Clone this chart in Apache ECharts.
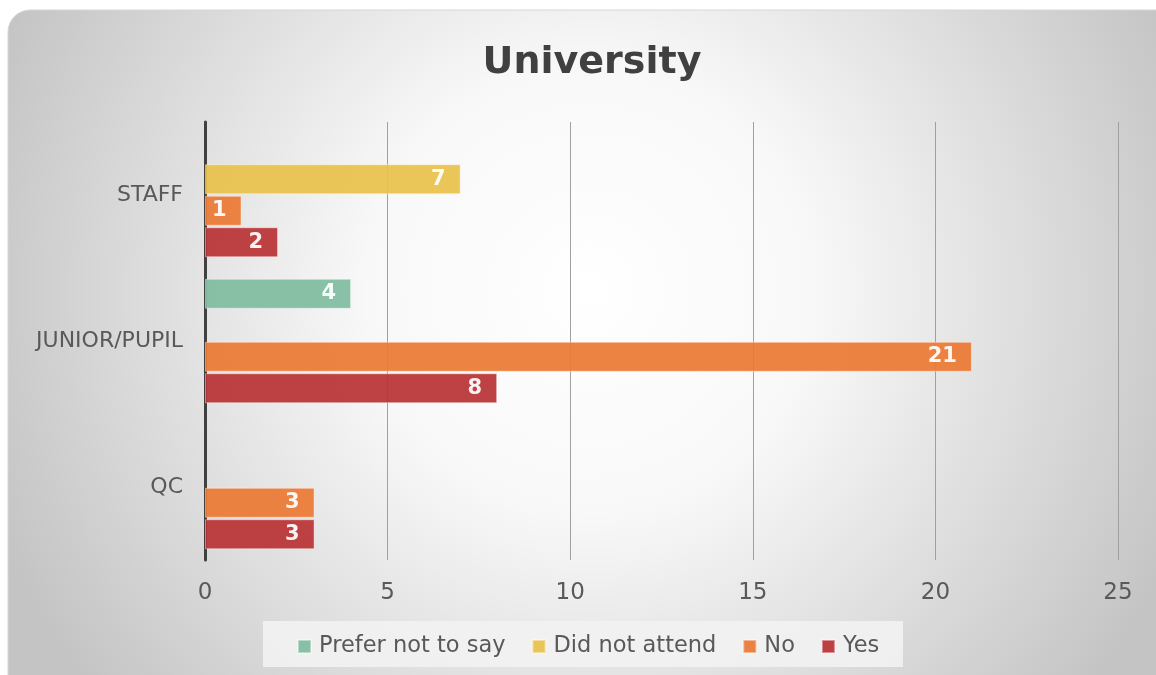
<!DOCTYPE html>
<html>
<head>
<meta charset="utf-8">
<script src="https://cdn.jsdelivr.net/npm/echarts@6/dist/echarts.min.js"></script>
<style>
  html, body { margin: 0; padding: 0; background: #fff; }
  #main { width: 1156px; height: 675px; }
</style>
</head>
<body>
<div id="main"></div>
<script>
// categories listed bottom to top, like the y axis draws them
const categories = ['QC', 'JUNIOR/PUPIL', 'STAFF']
const seriesNames = ['Prefer not to say', 'Did not attend', 'No', 'Yes']
const preferNotToSay = [null, 4, null]
const didNotAttend = [null, null, 7]
const noValues = [3, 21, 1]
const yesValues = [3, 8, 2]
const xTicks = [0, 5, 10, 15, 20, 25]

const colors = ['#7fbc9f', '#e8c14a', '#ec7a35', '#b93336']
const fontFamily = '"Century Gothic", "DejaVu Sans", sans-serif'

var chartDom = document.getElementById('main')
var myChart = echarts.init(chartDom)

const makeSeries = (name, data, i) => ({
  name: name,
  type: 'bar',
  data: data,
  barWidth: 30,
  barGap: '5%',
  itemStyle: {
    color: colors[i],
    opacity: 0.93,
    borderColor: 'rgba(255,255,255,0.45)',
    borderWidth: 1,
  },
  label: {
    show: true,
    position: 'insideRight',
    color: '#fff',
    fontWeight: 'bold',
    fontSize: 21,
    fontFamily: fontFamily,
    distance: 15,
  },
})

var option = {
  color: colors,
  animation: false,
  graphic: [
    {
      type: 'rect',
      z: -10,
      silent: true,
      shape: { x: 8, y: 10, width: 1180, height: 700, r: 22 },
      style: {
        fill: {
          type: 'radial',
          x: 590,
          y: 290,
          r: 640,
          global: true,
          colorStops: [
            { offset: 0, color: '#ffffff' },
            { offset: 0.35, color: '#f8f8f8' },
            { offset: 1, color: '#c4c4c4' },
          ],
        },
        stroke: '#d6d6d6',
        lineWidth: 1,
      },
    },
    {
      type: 'rect',
      z: -5,
      silent: true,
      shape: { x: 263, y: 621, width: 640, height: 46 },
      style: { fill: 'rgba(242,242,242,0.9)' },
    },
  ],
  title: {
    text: 'University',
    left: 587,
    top: 39,
    textAlign: 'center',
    textStyle: {
      fontFamily: fontFamily,
      fontSize: 38,
      fontWeight: 'bold',
      color: '#404040',
    },
  },
  legend: {
    data: seriesNames,
    top: 630,
    left: 292,
    itemWidth: 13,
    itemHeight: 13,
    itemGap: 26,
    icon: 'rect',
    textStyle: {
      fontFamily: fontFamily,
      fontSize: 22.5,
      color: '#595959',
      padding: [0, 0, 0, 3],
    },
  },
  grid: {
    left: 205,
    right: 38,
    top: 122,
    bottom: 115,
  },
  xAxis: {
    type: 'value',
    min: xTicks[0],
    max: xTicks[xTicks.length - 1],
    interval: 5,
    axisLine: { show: false },
    axisTick: { show: false },
    splitLine: { lineStyle: { color: '#a0a0a0', width: 1 } },
    axisLabel: {
      fontFamily: fontFamily,
      fontSize: 23,
      color: '#595959',
      margin: 22,
    },
  },
  yAxis: {
    type: 'category',
    data: categories,
    axisTick: { show: false },
    axisLine: { lineStyle: { color: '#404040', width: 3 } },
    axisLabel: {
      fontFamily: fontFamily,
      fontSize: 22,
      color: '#595959',
      margin: 22,
    },
  },
  series: [
    makeSeries(seriesNames[0], preferNotToSay, 0),
    makeSeries(seriesNames[1], didNotAttend, 1),
    makeSeries(seriesNames[2], noValues, 2),
    makeSeries(seriesNames[3], yesValues, 3),
  ],
}

option && myChart.setOption(option)
</script>
</body>
</html>
